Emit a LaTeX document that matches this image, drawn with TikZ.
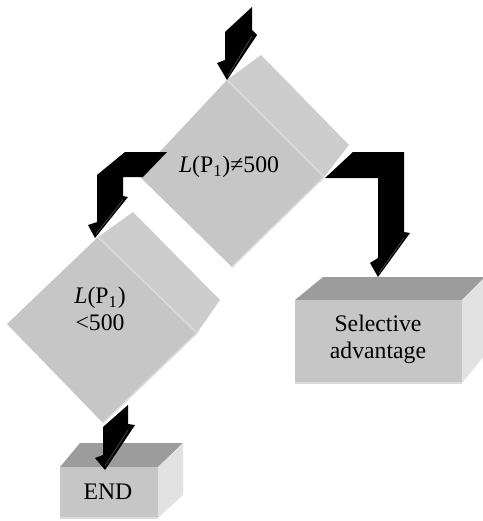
\documentclass[tikz,border=0pt]{standalone}
\usepackage{fontspec}
\setmainfont{Liberation Serif}
\usetikzlibrary{positioning}
\definecolor{facefront}{HTML}{C6C6C6}
\definecolor{faceback}{HTML}{CDCDCD}
\definecolor{facetop}{HTML}{9C9C9C}
\definecolor{faceside}{HTML}{E2E2E2}
\definecolor{edgelight}{HTML}{DCDCDC}
\definecolor{arrowedge}{HTML}{4A4A4A}

\begin{document}
\begin{tikzpicture}[x=0.02cm,y=-0.02cm,
    frontface/.style={fill=facefront},
    backface/.style={fill=faceback},
    topface/.style={fill=facetop},
    sideface/.style={fill=faceside},
    edgeline/.style={draw=edgelight,line width=0.9pt},
    blockarrow/.style={fill=black},
    arrowline/.style={draw=arrowedge,line width=0.4pt},
    txt/.style={font=\fontsize{13.5}{15.5}\selectfont,align=center,inner sep=0pt}]
  \useasboundingbox (0,0) rectangle (483,521);

  % big decision block
  \coordinate (d1t) at (227,80);
  \coordinate (d1r) at (324,177);
  \coordinate (d1b) at (232,267);
  \coordinate (d1l) at (138,175);
  \fill[backface] (d1t) -- (261,55) -- (349,145) -- (d1r) -- cycle;
  \fill[frontface] (d1t) -- (d1r) -- (d1b) -- (d1l) -- cycle;
  \draw[edgeline] (d1t) -- (d1r) -- (d1b);
  \node[txt] (cond1) at (229,167) {\textit{L}(P\textsubscript{1})≠500};

  % small decision block
  \coordinate (d2t) at (98,237);
  \coordinate (d2r) at (197,333);
  \coordinate (d2b) at (103,423);
  \coordinate (d2l) at (7,324);
  \fill[backface] (d2t) -- (133,212) -- (220,300) -- (d2r) -- cycle;
  \fill[frontface] (d2t) -- (d2r) -- (d2b) -- (d2l) -- cycle;
  \draw[edgeline] (d2t) -- (d2r) -- (d2b);
  \node[txt] (cond2) at (100,309) {\textit{L}(P\textsubscript{1})\\<500};

  % selective advantage box
  \coordinate (sa) at (295,300);
  \fill[topface] (sa) -- (323,277) -- (485,277) -- (462,300) -- cycle;
  \fill[sideface] (462,300) -- (485,277) -- (485,355) -- (462,383) -- cycle;
  \fill[frontface] (sa) rectangle (462,383);
  \draw[edgeline] (295,383) -- (462,383);
  \node[txt] (adv) at (378,339) {Selective\\advantage};

  % end box
  \coordinate (en) at (60,467);
  \fill[topface] (en) -- (80,443) -- (183,443) -- (158,467) -- cycle;
  \fill[sideface] (158,467) -- (183,443) -- (183,495) -- (158,518) -- cycle;
  \fill[frontface] (en) rectangle (158,518);
  \draw[edgeline] (60,518) -- (158,518);
  \node[txt] (stop) at (108,492) {END};

  % arrows (3d block arrows)
  \fill[blockarrow] (225,32) -- (252,7) -- (252,30) -- (257,35) -- (d1t)
    -- (217,63) -- (225,60) -- cycle;
  \draw[arrowline] (228,76) -- (252,36);
  \fill[blockarrow] (125,152) -- (167,152) -- (143,177) -- (123,177) -- (123,196)
    -- (128,197) -- (95,238) -- (88,225) -- (97,222) -- (97,175) -- cycle;
  \draw[arrowline] (96,234) -- (123,200);
  \fill[blockarrow] (325,178) -- (353,152) -- (404,152) -- (404,232) -- (410,233)
    -- (378,277) -- (370,263) -- (378,258) -- (378,178) -- cycle;
  \draw[arrowline] (379,273) -- (404,238);
  \fill[blockarrow] (103,427) -- (128,405) -- (128,424) -- (135,425) -- (105,470)
    -- (95,458) -- (103,455) -- cycle;
  \draw[arrowline] (105,466) -- (128,430);
\end{tikzpicture}
\end{document}
